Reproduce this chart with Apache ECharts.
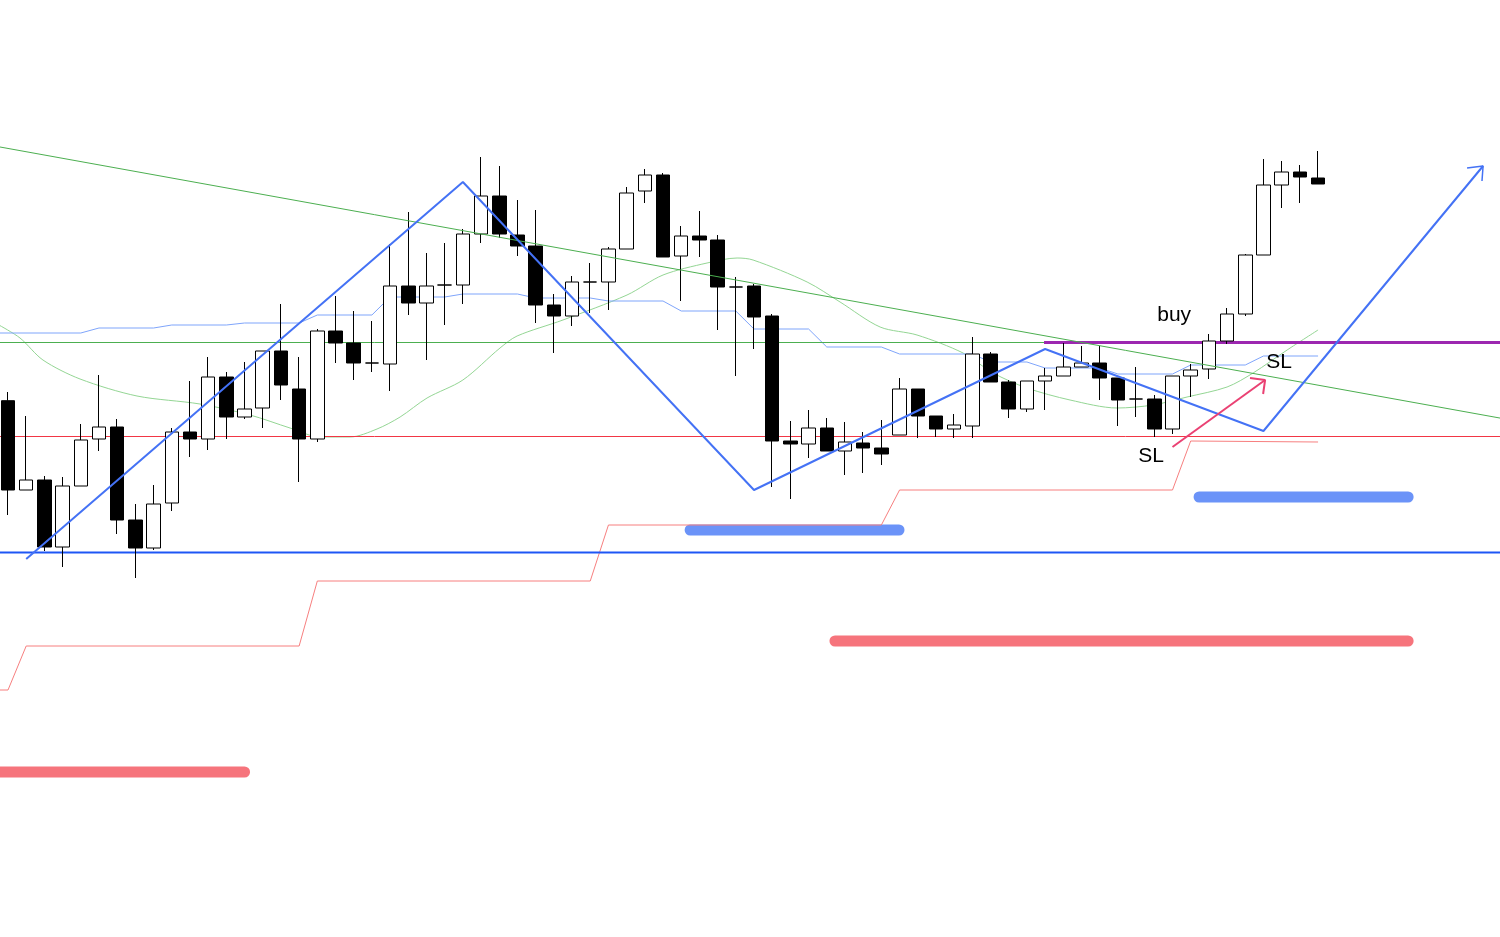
<!DOCTYPE html>
<html>
<head>
<meta charset="utf-8">
<script src="https://cdn.jsdelivr.net/npm/echarts@6/dist/echarts.min.js"></script>
<style>
html,body{margin:0;padding:0;background:#fff;}
#chart{width:1500px;height:937px;}
</style>
</head>
<body>
<div id="chart"></div>
<script>
// ---- data (price units) ----
// candle index positions run along the x axis; [open, close, low, high]
const candles = [
  [159.93,151.00,148.50,160.80],[151.00,152.00,151.00,158.40],[152.00,145.30,144.90,152.40],[145.30,151.40,143.30,152.30],
  [151.40,156.00,151.40,157.60],[156.10,157.30,154.90,162.50],[157.30,148.00,146.60,158.10],[148.00,145.20,142.20,149.60],
  [145.20,149.60,145.00,151.50],[149.70,156.80,148.90,157.20],[156.80,156.10,154.30,161.90],[156.10,162.30,155.00,164.30],
  [162.30,158.30,156.10,162.80],[158.30,159.10,158.10,163.80],[159.20,164.90,157.20,164.90],[164.90,161.50,160.00,169.60],
  [161.10,156.10,151.80,164.30],[156.10,166.90,155.80,167.10],[166.90,165.70,163.70,170.40],[165.70,163.70,162.00,168.90],
  [163.70,163.70,162.80,167.90],[163.60,171.40,160.90,175.60],[171.40,169.70,168.50,178.80],[169.70,171.40,164.00,174.70],
  [171.50,171.50,167.50,175.70],[171.50,176.60,169.60,177.10],[176.60,180.40,175.70,184.30],[180.40,176.60,176.20,183.40],
  [176.50,175.40,174.40,180.00],[175.40,169.50,167.70,179.00],[169.50,168.40,164.70,170.60],[168.40,171.80,167.40,172.40],
  [171.80,171.80,168.70,173.70],[171.80,175.10,169.00,175.30],[175.10,180.70,175.10,181.30],[180.90,182.50,179.70,183.10],
  [182.50,174.30,174.30,182.70],[174.40,176.40,169.90,177.40],[176.40,176.00,174.30,178.90],[176.00,171.30,167.00,176.50],
  [171.30,171.30,162.40,172.30],[171.40,168.30,165.10,171.60],[168.40,155.90,151.30,168.60],[155.90,155.60,150.10,157.90],
  [155.60,157.20,154.20,159.00],[157.20,154.90,154.90,158.20],[154.90,155.80,152.50,157.80],[155.70,155.20,152.70,156.80],
  [155.20,154.60,153.50,158.00],[156.50,161.10,156.50,162.20],[161.10,158.40,156.20,161.10],[158.40,157.10,156.30,158.40],
  [157.10,157.50,156.20,158.60],[157.40,164.60,156.20,166.30],[164.60,161.80,161.80,164.80],[161.80,159.10,158.20,162.00],
  [159.10,161.90,158.80,161.90],[161.90,162.40,159.00,163.20],[162.40,163.30,162.40,165.70],[163.30,163.70,163.30,165.40],
  [163.70,162.20,160.00,165.40],[162.20,160.00,157.40,162.20],[160.10,160.10,158.30,163.30],[160.10,157.10,156.30,160.50],
  [157.10,162.40,156.60,162.40],[162.40,163.00,160.30,163.60],[163.10,165.90,162.10,166.60],[165.90,168.60,165.60,169.20],
  [168.60,174.50,168.40,174.60],[174.50,181.50,174.50,184.10],[181.50,182.80,179.20,183.90],[182.80,182.30,179.70,183.50],
  [182.20,181.60,181.60,184.90]
];
// moving average (light green) [index, price]
const maLine = [
  [-0.5,167.5],[0.66,166.2],[1.92,164.0],[3.96,162.1],[7.09,160.4],[10.55,159.6],[13.3,158.5],[15.5,157.2],
  [17.15,156.3],[18.8,156.3],[20.28,157.1],[21.55,158.3],[23.03,160.2],[25.0,162.0],[27.04,165.2],[27.98,166.4],
  [30.5,168.0],[34.02,170.5],[36.0,172.5],[38.42,173.7],[40.07,174.2],[40.95,174.0],[43.92,171.8],[45.73,169.8],
  [47.93,167.3],[49.96,166.5],[52.49,164.7],[54.14,162.7],[56.0,161.2],[58.37,160.0],[60.95,159.2],[62.93,159.5],
  [64.8,160.3],[67.0,161.3],[68.43,162.7],[70.3,165.0],[72.0,167.0]
];
// baseline (light blue, stepped)
const baseLine = [
  [-0.5,166.7],[4,166.7],[5,167.2],[8,167.2],[9,167.5],[12,167.5],[13,167.7],[16,167.7],[17,168.5],[20,168.5],
  [21,170.3],[24,170.3],[25,170.6],[28,170.6],[29,170.2],[32,170.2],[33,169.9],[36,169.9],[37,168.9],[40,168.9],
  [41,167.1],[44,167.1],[45,165.3],[48,165.3],[49,164.6],[53,164.6],[54,163.8],[56,163.8],[57,163.2],[60,163.2],
  [61,162.6],[64,162.6],[65,163.5],[68,163.5],[69,164.4],[72,164.4]
];
// lagging stepped support (red)
const stepLine = [
  [-0.5,131.0],[0,131.0],[1,135.4],[16,135.4],[17,141.9],[32,141.9],[33,147.5],[48,147.5],[49,151.0],[64,151.0],[65,155.9],[72,155.8]
];
// swing zigzag (blue)
const zigzag = [[1,144.1],[25,181.8],[41,151.0],[57,165.1],[69,156.9],[81.07,183.4]];
const zigzagHead = [[80.19,183.2],[81.07,183.4],[81.01,181.9]];
// pink arrow
const pinkArrow = [[64.0,155.3],[69.09,162.0]];
const pinkHead = [[68.26,162.2],[69.09,162.0],[68.98,160.6]];
// trendline (green diagonal)
const trendLine = [[-0.5,185.32],[82.5,158.03]];
// horizontal levels
const levelGreen = 165.75, levelRed = 156.35, levelBlue = 144.75, levelPurple = 165.75, purpleStart = 56.94;
// zone bars
const redZones = [[[-1,122.8],[13.0,122.8]], [[45.45,135.9],[76.95,135.9]]];
const blueZones = [[[37.49,147.0],[48.97,147.0]], [[65.46,150.3],[76.95,150.3]]];
// text labels
const labels = [
  {name:'buy', value:[64.09,168.5]},
  {name:'SL', value:[69.86,163.8]},
  {name:'SL', value:[62.82,154.4]}
];

const chart = echarts.init(document.getElementById('chart'));
const L = (data, color, width, z, extra) => Object.assign({
  type:'line', data, symbol:'none', silent:true, z,
  lineStyle:{color, width}, animation:false
}, extra || {});

const series = [];
redZones.forEach(d => series.push(L(d, '#f6747c', 11, 1, {lineStyle:{color:'#f6747c', width:11, cap:'round'}})));
blueZones.forEach(d => series.push(L(d, '#6b93f8', 11, 1, {lineStyle:{color:'#6b93f8', width:11, cap:'round'}})));
series.push(L(maLine, '#94d694', 1, 2, {smooth:0.3}));
series.push(L(baseLine, '#7fa5fb', 1, 2));
series.push(L(stepLine, '#f77f7f', 1, 2));
series.push(L([[-0.5,levelGreen],[82.5,levelGreen]], '#4caf50', 1, 3));
series.push(L([[-0.5,levelRed],[82.5,levelRed]], '#f23645', 1, 3));
series.push(L([[-0.5,levelBlue],[82.5,levelBlue]], '#1e56f5', 2, 3));
series.push(L([[purpleStart,levelPurple],[82.5,levelPurple]], '#9c27b0', 3, 4));
series.push({
  type:'candlestick', data:candles.map((c, i) => [i].concat(c)), encode:{x:0, y:[1,2,3,4]},
  barWidth:14, z:5, silent:true,
  itemStyle:{color:'#ffffff', color0:'#000000', borderColor:'#000000', borderColor0:'#000000', borderWidth:1}
});
series.push(L(trendLine, '#4caf50', 1, 6));
series.push(L(zigzag, '#4472f5', 2, 7));
series.push(L(zigzagHead, '#4472f5', 1.5, 7));
series.push(L(pinkArrow, '#ea4173', 2, 7));
series.push(L(pinkHead, '#ea4173', 2, 7));
series.push({
  type:'scatter', data:labels, symbolSize:0, z:8, silent:true,
  itemStyle:{opacity:1},
  label:{show:true, position:'inside', formatter:p => p.name, color:'#000000', opacity:1, fontSize:21,
    fontFamily:'Liberation Sans, Arial, sans-serif'}
});

chart.setOption({
  animation:false,
  backgroundColor:'#ffffff',
  grid:{left:0, right:0, top:0, bottom:0},
  xAxis:[{type:'value', min:-0.44, max:82.0, show:false}],
  yAxis:[{type:'value', min:106.3, max:200, show:false, scale:true}],
  series
});
</script>
</body>
</html>
